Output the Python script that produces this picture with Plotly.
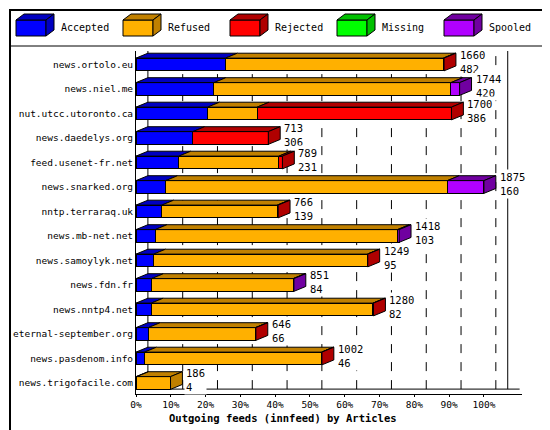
import plotly.graph_objects as go

hosts = ["news.ortolo.eu", "news.niel.me", "nut.utcc.utoronto.ca", "news.daedelys.org",
         "feed.usenet-fr.net", "news.snarked.org", "nntp.terraraq.uk", "news.mb-net.net",
         "news.samoylyk.net", "news.fdn.fr", "news.nntp4.net", "eternal-september.org",
         "news.pasdenom.info", "news.trigofacile.com"]
accepted = [482, 420, 386, 306, 231, 160, 139, 103, 95, 84, 82, 66, 46, 4]
refused = [1174, 1277, 267, 0, 539, 1518, 622, 1306, 1152, 763, 1195, 578, 954, 182]
rejected = [4, 0, 1047, 407, 19, 0, 5, 0, 2, 0, 3, 2, 2, 0]
missing = [0] * 14
spooled = [0, 47, 0, 0, 0, 197, 0, 9, 0, 4, 0, 0, 0, 0]
totals = [1660, 1744, 1700, 713, 789, 1875, 766, 1418, 1249, 851, 1280, 646, 1002, 186]
tick_labels = ["0%", "10%", "20%", "30%", "40%", "50%", "60%", "70%", "80%", "90%", "100%"]

series = [("Accepted", accepted, "#0000ff", "#0000c0"),
          ("Refused", refused, "#ffb000", "#c08000"),
          ("Rejected", rejected, "#ff0000", "#b00000"),
          ("Missing", missing, "#00ff00", "#00c000"),
          ("Spooled", spooled, "#b000ff", "#7000a0")]

top = max(totals)
dx = top * 12 / 351   # depth offset in data units
dy = 0.2
bw = 0.52
font = "DejaVu Sans Mono"
fs = 9.5
W, H, L, R, T, B = 550, 430, 128, 36, 43, 44
pw, ph = W - L - R, H - T - B


def px(x):  # pixel -> paper x
    return (x - L) / pw


def py(y):  # pixel -> paper y
    return (H - B - y) / ph


fig = go.Figure()
rows = list(range(len(hosts)))
for name, vals, col, _ in series:
    fig.add_trace(go.Bar(y=rows, x=vals, name=name, orientation="h", width=bw, showlegend=False,
                         marker=dict(color=col, line=dict(color="black", width=1))))

shapes = []
for i in rows:
    base = 0
    last_dark = None
    yt = i - bw / 2
    yb = i + bw / 2
    for name, vals, col, dark in series:
        v = vals[i]
        if v <= 0:
            continue
        x0, x1 = base, base + v
        shapes.append(dict(type="path", xref="x", yref="y",
                           path=f"M{x0},{yt} L{x1},{yt} L{x1+dx},{yt-dy} L{x0+dx},{yt-dy} Z",
                           fillcolor=dark, line=dict(color="black", width=1)))
        base = x1
        last_dark = dark
    shapes.append(dict(type="path", xref="x", yref="y",
                       path=f"M{base},{yt} L{base+dx},{yt-dy} L{base+dx},{yb-dy} L{base},{yb} Z",
                       fillcolor=last_dark, line=dict(color="black", width=1)))
    fig.add_annotation(x=base + dx, y=i - 0.12, text=f"{totals[i]}<br>{accepted[i]}", showarrow=False,
                       xanchor="left", xshift=2, align="left", bgcolor="white",
                       font=dict(family=font, size=fs + 1, color="black"))

# dashed grid on back wall
for k in range(1, 11):
    gx = top * k / 10 + dx
    shapes.append(dict(type="line", xref="x", yref="y", x0=gx, x1=gx, y0=13.45 - dy, y1=-0.55,
                       line=dict(color="black", width=1, dash="dash"), layer="below"))
shapes.append(dict(type="line", xref="x", yref="y", x0=dx, x1=dx, y0=13.45 - dy, y1=-0.55,
                   line=dict(color="black", width=1), layer="below"))
shapes.append(dict(type="line", xref="x", yref="y", x0=top + 2 * dx, x1=top + 2 * dx,
                   y0=13.45 - dy, y1=-0.55, line=dict(color="black", width=1), layer="below"))
shapes.append(dict(type="line", xref="x", yref="y", x0=0, x1=top + 3 * dx, y0=13.45 - dy,
                   y1=13.45 - dy, line=dict(color="black", width=1), layer="below"))
# outer frame
shapes.append(dict(type="rect", xref="paper", yref="paper", x0=px(2), x1=px(548), y0=py(427),
                   y1=py(2), line=dict(color="black", width=2)))
shapes.append(dict(type="line", xref="paper", yref="paper", x0=px(2), x1=px(548), y0=py(38),
                   y1=py(38), line=dict(color="black", width=1)))

# hand-made legend row with 3D-ish swatches
for k, (name, vals, col, dark) in enumerate(series):
    lx = 8 + 107 * k
    shapes.append(dict(type="path", xref="paper", yref="paper",
                       path=f"M{px(lx)},{py(28)} L{px(lx+30)},{py(28)} L{px(lx+30)},{py(12)} "
                            f"L{px(lx)},{py(12)} Z",
                       fillcolor=col, line=dict(color="black", width=1)))
    shapes.append(dict(type="path", xref="paper", yref="paper",
                       path=f"M{px(lx)},{py(12)} L{px(lx+8)},{py(6)} L{px(lx+38)},{py(6)} "
                            f"L{px(lx+30)},{py(12)} Z",
                       fillcolor=dark, line=dict(color="black", width=1)))
    shapes.append(dict(type="path", xref="paper", yref="paper",
                       path=f"M{px(lx+30)},{py(12)} L{px(lx+38)},{py(6)} L{px(lx+38)},{py(22)} "
                            f"L{px(lx+30)},{py(28)} Z",
                       fillcolor=dark, line=dict(color="black", width=1)))
    fig.add_annotation(xref="paper", yref="paper", x=px(lx + 43), y=py(19), text=name,
                       showarrow=False, xanchor="left", yanchor="middle",
                       font=dict(family=font, size=fs + 0.5, color="black"))

fig.update_layout(
    width=W, height=H, barmode="stack", bargap=0.48, showlegend=False,
    margin=dict(l=L, r=R, t=T, b=B, autoexpand=False),
    paper_bgcolor="white", plot_bgcolor="white",
    font=dict(family=font, size=fs, color="black"),
    shapes=shapes,
    xaxis=dict(range=[0, top + 3.2 * dx], tickvals=[top * k / 10 for k in range(11)],
               ticktext=tick_labels, showgrid=False, zeroline=False, showline=True,
               linecolor="black", ticks="outside", ticklen=2, tickcolor="black",
               automargin=False),
    yaxis=dict(range=[13.45, -0.55], tickvals=rows, ticktext=hosts, showgrid=False,
               zeroline=False, showline=True, linecolor="black", automargin=False,
               ticklen=2),
)
fig.add_annotation(xref="paper", yref="paper", x=px(275), y=py(418), showarrow=False,
                   text="<b>Outgoing feeds (innfeed) by Articles</b>",
                   font=dict(family=font, size=fs + 1, color="black"))
fig.write_html("out.html")
